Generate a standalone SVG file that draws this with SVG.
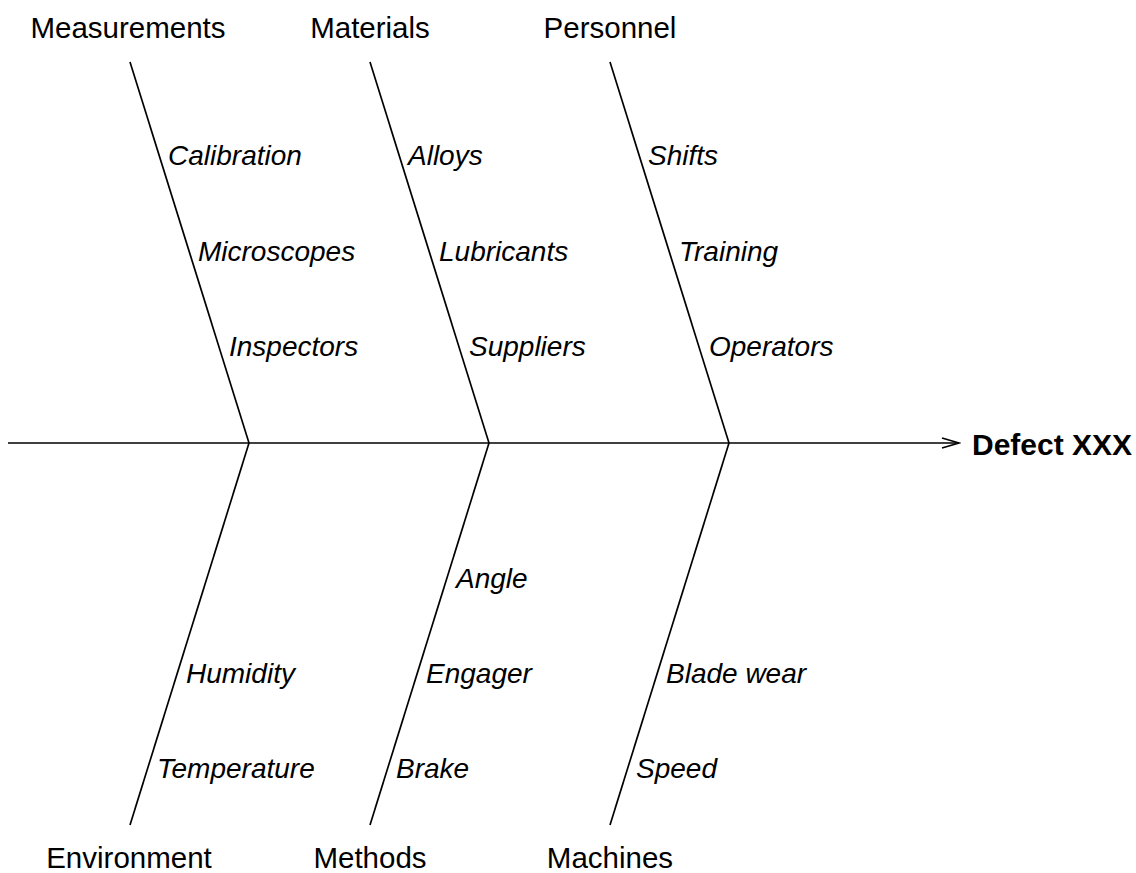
<svg xmlns="http://www.w3.org/2000/svg" width="1136" height="873" viewBox="0 0 1136 873">
<style>
.bone{stroke:#000;stroke-width:1.7;fill:none}
.cat{font-family:"Liberation Sans",Arial,sans-serif;font-size:29.5px;fill:#000;text-anchor:middle}
.cause{font-family:"Liberation Sans",Arial,sans-serif;font-size:28px;font-style:italic;fill:#000}
.effect{font-family:"Liberation Sans",Arial,sans-serif;font-size:30px;font-weight:bold;fill:#000}
</style>
<defs>
<marker id="arrow" viewBox="0 0 20 12" refX="18" refY="6" markerWidth="20" markerHeight="12" markerUnits="userSpaceOnUse" orient="auto">
<path d="M1,1 L18,6 L1,11" fill="none" stroke="#000" stroke-width="1.7"/>
</marker>
</defs>
<g id="connectors">
<line class="bone" x1="8" y1="443" x2="959" y2="443" marker-end="url(#arrow)"/>
<line class="bone" x1="130" y1="62" x2="249" y2="443"/>
<line class="bone" x1="370" y1="62" x2="489" y2="443"/>
<line class="bone" x1="610" y1="62" x2="729" y2="443"/>
<line class="bone" x1="249" y1="443" x2="130" y2="825"/>
<line class="bone" x1="489" y1="443" x2="370" y2="825"/>
<line class="bone" x1="729" y1="443" x2="610" y2="825"/>
</g>
<g id="effect"><text class="effect" x="972" y="455">Defect XXX</text></g>
<g id="measurements">
<text class="cat" x="128" y="38">Measurements</text>
<text class="cause" x="168" y="165">Calibration</text>
<text class="cause" x="198" y="261">Microscopes</text>
<text class="cause" x="229" y="356">Inspectors</text>
</g>
<g id="materials">
<text class="cat" x="370" y="38">Materials</text>
<text class="cause" x="408" y="165">Alloys</text>
<text class="cause" x="439" y="261">Lubricants</text>
<text class="cause" x="469" y="356">Suppliers</text>
</g>
<g id="personnel">
<text class="cat" x="610" y="38">Personnel</text>
<text class="cause" x="648" y="165">Shifts</text>
<text class="cause" x="679" y="261">Training</text>
<text class="cause" x="709" y="356">Operators</text>
</g>
<g id="environment">
<text class="cat" x="129" y="868">Environment</text>
<text class="cause" x="186" y="683">Humidity</text>
<text class="cause" x="157" y="778">Temperature</text>
</g>
<g id="methods">
<text class="cat" x="370" y="868">Methods</text>
<text class="cause" x="456" y="588">Angle</text>
<text class="cause" x="426" y="683">Engager</text>
<text class="cause" x="396" y="778">Brake</text>
</g>
<g id="machines">
<text class="cat" x="610" y="868">Machines</text>
<text class="cause" x="666" y="683">Blade wear</text>
<text class="cause" x="636" y="778">Speed</text>
</g>
</svg>
